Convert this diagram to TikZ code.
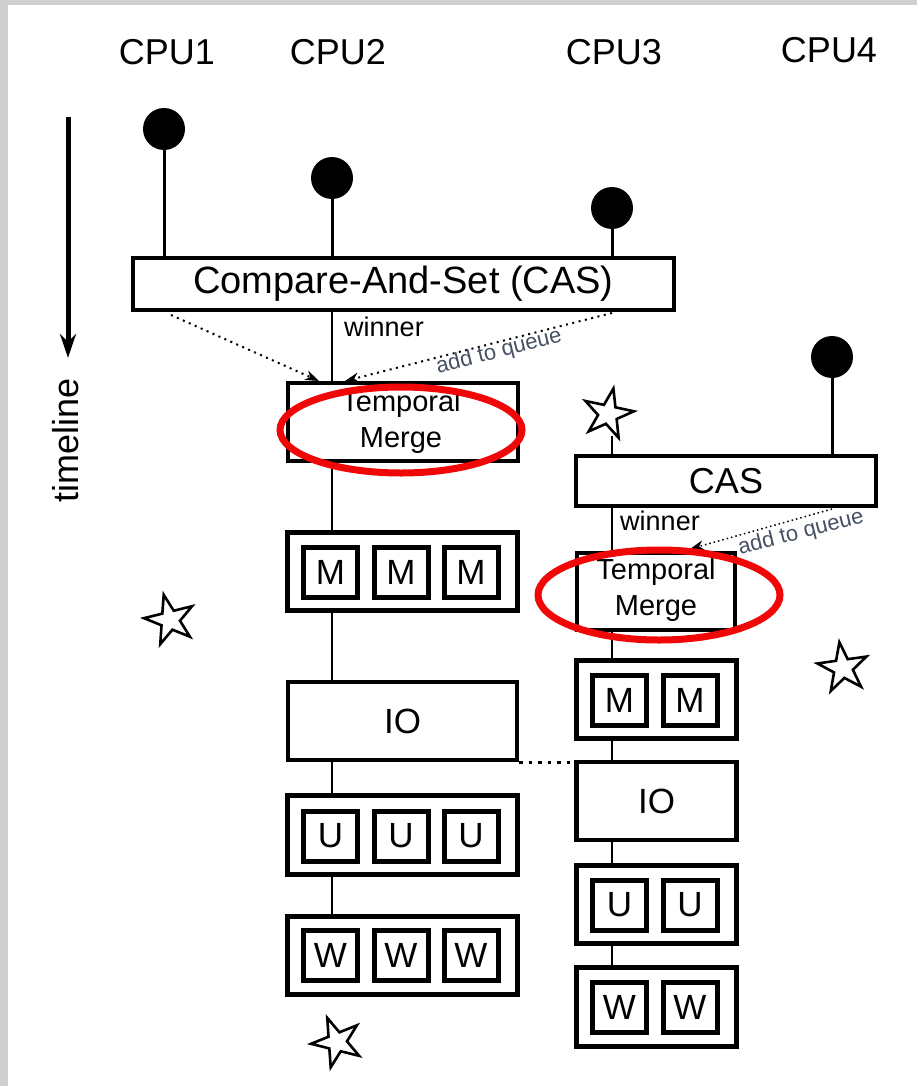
\documentclass[tikz,border=0pt]{standalone}
\usepackage{fontspec}
\setmainfont{Liberation Sans}
\usetikzlibrary{shapes.geometric,arrows.meta}
\definecolor{edgegray}{RGB}{205,208,205}
\definecolor{qcol}{RGB}{70,80,100}
\definecolor{ringred}{RGB}{240,8,8}
\begin{document}
\begin{tikzpicture}[x=1pt,y=-1pt,
  cpu/.style={font=\fontsize{36}{40}\selectfont},
  dot/.style={circle,fill=black,minimum size=42,inner sep=0},
  stem/.style={line width=3},
  conn/.style={line width=2.5},
  bigbox/.style={draw,line width=4.5,inner sep=0},
  inbox/.style={draw,line width=5,inner sep=0,minimum width=54,minimum height=50,font=\fontsize{35}{38}\selectfont},
  tmtext/.style={align=center,font=\fontsize{29}{36}\selectfont},
  win/.style={font=\fontsize{27}{30}\selectfont},
  qlbl/.style={text=qcol,font=\fontsize{22}{24}\selectfont,rotate=14,inner sep=1pt},
  qarrow/.style={line width=2,dash pattern=on 2pt off 4.5pt,-{Stealth[length=14pt,width=10pt]}},
  ring/.style={draw=ringred,line width=7,ellipse,inner sep=0,minimum width=242,minimum height=86},
  starshape/.style={star,star points=5,star point ratio=2.6,draw,line width=2.6,minimum size=52,inner sep=0,fill=white},
  iolink/.style={line width=3.5,dash pattern=on 3.5pt off 6pt}
]
\useasboundingbox (0,0) rectangle (917,1086);
\fill[edgegray] (0,0) rectangle (8,1086);
\fill[edgegray] (0,0) rectangle (917,5);

% CPU labels
\node[cpu] (c1) at (167,52) {CPU1};
\node[cpu] (c2) at (338,52) {CPU2};
\node[cpu] (c3) at (614,52) {CPU3};
\node[cpu] (c4) at (829,50) {CPU4};

% timeline
\coordinate (tla) at (68,117);
\coordinate (tlb) at (68,358);
\draw[line width=5,-{Stealth[length=24pt,width=16pt]}] (tla) -- (tlb);
\node[cpu,rotate=90] (tl) at (66,440) {timeline};

% dots
\node[dot] (d1) at (164,129) {};
\node[dot] (d2) at (332,178) {};
\node[dot] (d3) at (612,208) {};
\node[dot] (d4) at (832,357) {};

% left column boxes
\node[bigbox,minimum width=541,minimum height=52,font=\fontsize{38}{40}\selectfont] (cas1) at (403.5,284) {Compare-And-Set (CAS)};
\node[bigbox,minimum width=230,minimum height=78] (tm1) at (403,422) {};
\node[tmtext] (tm1t) at (401,422) {Temporal\\Merge};
\node[bigbox,line width=5,minimum width=230,minimum height=78] (mmm) at (402,571) {};
\node[inbox] (m1) at (330.5,572) {M};
\node[inbox] (m2) at (401,572) {M};
\node[inbox] (m3) at (471,572) {M};
\node[bigbox,minimum width=229,minimum height=78,font=\fontsize{35}{38}\selectfont] (io1) at (402.5,721) {IO};
\node[bigbox,line width=5,minimum width=230,minimum height=79] (uuu) at (402,835) {};
\node[inbox] (u1) at (330.5,836) {U};
\node[inbox] (u2) at (401,836) {U};
\node[inbox] (u3) at (471,836) {U};
\node[bigbox,line width=5,minimum width=230,minimum height=78] (www) at (402,955.5) {};
\node[inbox] (w1) at (330.5,955.5) {W};
\node[inbox] (w2) at (401,955.5) {W};
\node[inbox] (w3) at (471,955.5) {W};

% right column boxes
\node[bigbox,minimum width=300,minimum height=50,font=\fontsize{36}{40}\selectfont] (cas2) at (726,481) {CAS};
\node[bigbox,minimum width=158,minimum height=77] (tm2) at (656,591.5) {};
\node[tmtext] (tm2t) at (656,590) {Temporal\\Merge};
\node[bigbox,line width=5,minimum width=160,minimum height=78] (mm2) at (656.5,699) {};
\node[inbox] (mr1) at (619.5,700) {M};
\node[inbox] (mr2) at (690,700) {M};
\node[bigbox,minimum width=160,minimum height=78,font=\fontsize{35}{38}\selectfont] (io2) at (656.5,801) {IO};
\node[bigbox,line width=5,minimum width=160,minimum height=78] (uu2) at (656.5,904) {};
\node[inbox] (ur1) at (619.5,905) {U};
\node[inbox] (ur2) at (690,905) {U};
\node[bigbox,line width=5,minimum width=160,minimum height=79] (ww2) at (656.5,1006.5) {};
\node[inbox] (wr1) at (619.5,1007.5) {W};
\node[inbox] (wr2) at (690,1007.5) {W};

% stems from dots
\draw[stem] (d1.south) -- (d1.south |- cas1.north);
\draw[stem] (d2.south) -- (d2.south |- cas1.north);
\draw[stem] (d3.south) -- (d3.south |- cas1.north);
\draw[stem] (d4.south) -- (d4.south |- cas2.north);

% left column connectors
\draw[conn] (cas1.south -| d2) -- (tm1.north -| d2);
\draw[conn] (tm1.south -| d2) -- (mmm.north -| d2);
\draw[conn] (mmm.south -| d2) -- (io1.north -| d2);
\draw[conn] (io1.south -| d2) -- (uuu.north -| d2);
\draw[conn] (uuu.south -| d2) -- (www.north -| d2);

% right column connectors
\coordinate (s2b) at (612,436);
\draw[conn] (s2b) -- (s2b |- cas2.north);
\node[starshape,rotate=-12] (s2) at (608,414) {};
\draw[conn] (cas2.south -| d3) -- (tm2.north -| d3);
\draw[conn] (tm2.south -| d3) -- (mm2.north -| d3);
\draw[conn] (mm2.south -| d3) -- (io2.north -| d3);
\draw[conn] (io2.south -| d3) -- (uu2.north -| d3);
\draw[conn] (uu2.south -| d3) -- (ww2.north -| d3);

% winner labels
\node[win] (win1) at (384,327) {winner};
\node[win] (win2) at (660,521) {winner};

% queue arrows
\coordinate (q1a) at (171,315);
\coordinate (q1b) at (319,381);
\coordinate (q2a) at (612,313);
\coordinate (q2b) at (345,381);
\coordinate (q3a) at (832,509);
\coordinate (q3b) at (690,549);
\draw[qarrow] (q1a) -- (q1b);
\draw[qarrow] (q2a) -- (q2b);
\draw[qarrow,line width=1.5,dash pattern=on 1.5pt off 3pt] (q3a) -- (q3b);
\node[qlbl] (ql1) at (499,352) {add to queue};
\node[qlbl] (ql2) at (801,533) {add to queue};

% IO link
\draw[iolink] (io1.south east) -- (io1.south east -| io2.west);

% red rings
\node[ring] (r1) at (401,430) {};
\node[ring,minimum height=90] (r2) at (659,595) {};

% stars
\node[starshape,rotate=14] (s1) at (170,620) {};
\node[starshape,rotate=8] (s3) at (843,668) {};
\node[starshape,rotate=22] (s4) at (337,1042) {};
\end{tikzpicture}
\end{document}
